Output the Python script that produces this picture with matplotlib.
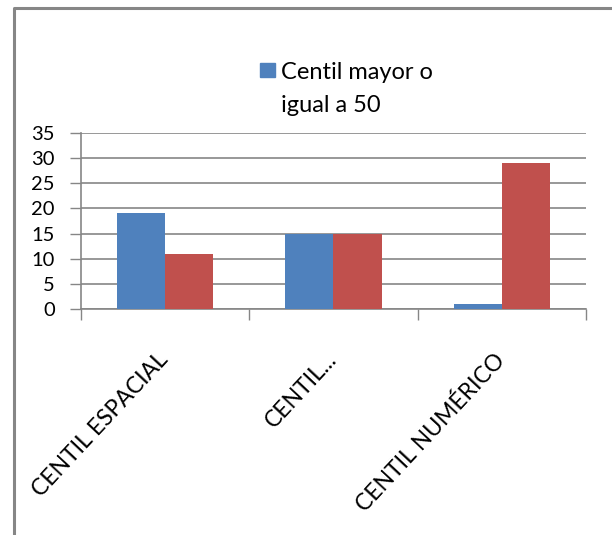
import matplotlib.pyplot as plt
from matplotlib.patches import Rectangle
from matplotlib.transforms import ScaledTranslation
import numpy as np

plt.rcParams['font.family'] = ['Lato', 'DejaVu Sans']

categorias = ['CENTIL ESPACIAL', 'CENTIL...', 'CENTIL NUMÉRICO']
mayor_50 = [19, 15, 1]
menor_50 = [11, 15, 29]
yticks = [0, 5, 10, 15, 20, 25, 30, 35]

azul = '#4F81BD'
rojo = '#C0504D'
gris = '#868686'

fig = plt.figure(figsize=(6.12, 5.35), dpi=100)
ax = fig.add_axes([0.1324, 0.4224, 0.825, 0.329])

x = np.arange(len(categorias))
w = 0.286
b1 = ax.bar(x - w / 2, mayor_50, w, color=azul, label='Centil mayor o\nigual a 50', zorder=3)
b2 = ax.bar(x + w / 2, menor_50, w, color=rojo, label='Centil menor a 50', zorder=3)

ax.set_xlim(-0.5, len(categorias) - 0.5)
ax.set_ylim(0, 35)
ax.set_yticks(yticks)
ax.yaxis.grid(True, color=gris, linewidth=1.2, zorder=0)
ax.tick_params(axis='y', length=8, width=1, color=gris, labelsize=14.5, pad=11)

# marcas del eje x en los limites de cada categoria
ax.set_xticks(np.arange(len(categorias) + 1) - 0.5)
ax.set_xticklabels([])
ax.tick_params(axis='x', length=8, width=1, color=gris, direction='out')
ax.set_xticks(x, minor=True)
ax.set_xticklabels(categorias, minor=True, rotation=47, ha='right',
                   rotation_mode='anchor', fontsize=16.5)
ax.tick_params(axis='x', which='minor', length=0, pad=26)
# desplazar un poco las etiquetas inclinadas
off = ScaledTranslation(-8 / 100, -4 / 100, fig.dpi_scale_trans)
for lbl in ax.get_xticklabels(minor=True):
    lbl.set_transform(lbl.get_transform() + off)

for s in ['top', 'right']:
    ax.spines[s].set_visible(False)
for s in ['left', 'bottom']:
    ax.spines[s].set_color(gris)
    ax.spines[s].set_linewidth(1.2)

# leyenda: solo se ve la primera serie
fig.patches.append(Rectangle((260 / 612, 1 - 77 / 535), 15 / 612, 14 / 535,
                             transform=fig.transFigure, color=azul))
fig.text(281 / 612, 1 - 79 / 535, 'Centil mayor o', fontsize=17, va='baseline')
fig.text(281 / 612, 1 - 112 / 535, 'igual a 50', fontsize=17, va='baseline')

# borde del grafico
fig.add_artist(plt.Line2D([13.5 / 612, 13.5 / 612, 1], [0, 1 - 7.5 / 535, 1 - 7.5 / 535],
                          transform=fig.transFigure, color=gris, linewidth=2.2))

fig.savefig('out.png', dpi=100)
